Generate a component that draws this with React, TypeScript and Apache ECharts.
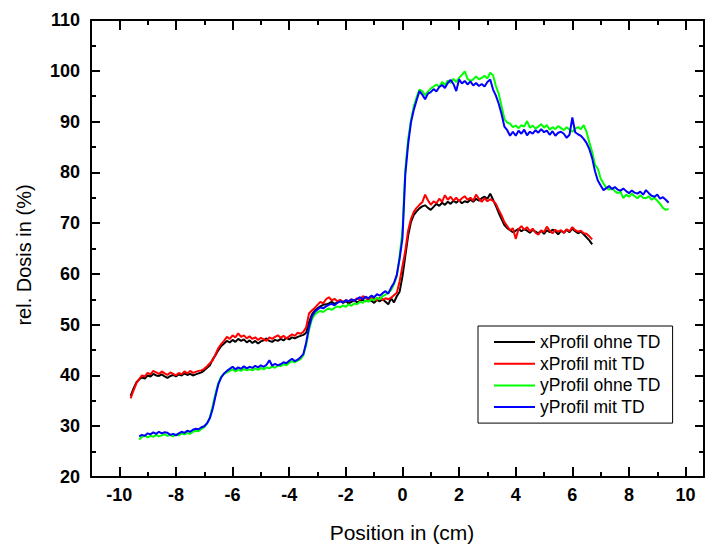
import React, { useEffect, useRef } from "react";
import * as echarts from "echarts";

// Sampling grid of the measured profiles (cm)
const X_PROFILE_START = -9.6;
const Y_PROFILE_START = -9.3;
const STEP = 0.1;

// xProfil ohne TD (%)
const xOhne = [
  36.0, 37.4, 38.6, 39.2, 39.6, 39.4, 40.0, 39.8, 40.3, 40.0,
  39.9, 40.2, 39.8, 39.5, 39.9, 40.1, 39.8, 40.2, 40.0, 40.4,
  40.1, 40.3, 40.0, 40.2, 40.4, 40.6, 41.0, 41.5, 42.0, 43.2,
  44.0, 45.0, 45.8, 46.3, 46.8, 46.5, 47.0, 46.6, 47.2, 46.8,
  47.1, 46.5, 46.9, 46.4, 46.8, 46.3, 46.7, 46.9, 47.3, 46.8,
  46.6, 47.0, 46.8, 47.2, 46.9, 47.4, 47.1, 47.5, 47.3, 47.6,
  47.8, 48.0, 48.4, 50.5, 52.0, 52.8, 53.2, 53.6, 53.9, 54.0,
  54.2, 54.5, 54.1, 54.4, 54.7, 54.3, 54.6, 54.2, 54.5, 54.8,
  54.4, 54.7, 54.9, 54.6, 55.0, 54.7, 54.3, 54.9, 54.6, 55.0,
  54.5, 54.0, 55.2, 54.4, 55.6, 56.5, 59.5, 63.5, 67.5, 70.2,
  71.6, 72.3, 72.9, 73.3, 73.5, 73.0, 72.6, 73.2, 73.8, 73.4,
  74.0, 73.6, 74.2, 73.8, 74.4, 74.0, 74.5, 73.9, 74.3, 74.1,
  74.6, 74.2, 74.8, 74.4, 74.9, 75.2, 74.8, 75.8, 74.6, 73.4,
  72.0, 70.8, 69.6, 69.0, 68.6, 68.2, 68.5, 68.9, 68.4, 68.8,
  68.5, 68.1, 68.7, 68.3, 68.0, 68.5, 67.9, 68.6, 68.2, 68.7,
  68.4, 67.8, 68.5, 68.1, 68.7, 68.2, 68.9, 68.4, 68.0, 68.3,
  67.8, 67.2, 66.6, 65.8,
];

// xProfil mit TD (%)
const xMit = [
  35.5, 37.0, 38.4, 39.3, 40.0, 39.8, 40.5, 40.2, 40.9, 40.6,
  40.3, 40.8, 40.4, 40.1, 40.6, 40.3, 40.0, 40.5, 40.2, 40.8,
  40.4, 40.9, 40.5, 40.7, 40.9, 41.0, 41.3, 41.8, 42.4, 43.0,
  44.2, 45.4, 46.2, 46.8, 47.6, 47.2, 47.9, 47.5, 48.3, 47.6,
  47.9, 47.3, 47.7, 47.2, 47.5, 47.0, 47.4, 47.1, 46.8, 47.5,
  47.2, 47.6, 47.9, 47.4, 47.8, 47.3, 47.7, 48.1, 47.8, 48.4,
  48.2, 48.6, 49.5, 52.2, 52.8, 53.3, 53.9, 54.5, 54.2, 55.0,
  55.4, 54.8, 55.1, 54.6, 54.9, 54.5, 54.8, 54.6, 55.0, 54.7,
  55.2, 54.9, 55.6, 55.3, 55.0, 55.4, 55.1, 54.8, 55.3, 54.9,
  55.2, 55.0, 55.3, 55.8, 56.3, 58.5, 61.5, 64.5, 68.5, 70.8,
  72.2, 73.0, 73.6, 74.1, 75.6, 74.5, 73.6, 74.3, 73.9, 74.8,
  74.2, 75.5, 74.6, 75.2, 74.4, 75.0, 74.3, 74.9, 75.3, 74.6,
  75.0, 74.4, 75.6, 74.8, 74.2, 74.9, 74.3, 74.7, 74.4, 73.8,
  72.6, 71.5, 70.2, 69.4, 68.6, 69.0, 66.9, 68.8, 69.4, 68.7,
  69.2, 68.4, 68.9, 68.1, 67.7, 68.6, 68.2, 69.3, 68.5, 68.0,
  68.7, 68.3, 68.6, 68.1, 68.8, 68.4, 69.2, 68.6, 68.3, 68.5,
  68.0, 67.9, 67.4, 66.8,
];

// yProfil ohne TD (%)
const yOhne = [
  27.4, 27.9, 28.2, 27.8, 28.1, 27.9, 28.3, 28.0, 28.2, 28.4,
  28.1, 28.3, 28.0, 28.4, 28.2, 28.6, 28.4, 28.7, 28.5, 28.9,
  29.1, 29.0, 29.5, 29.8, 30.5, 31.8, 34.0, 36.5, 38.6, 39.8,
  40.3, 40.6, 40.9, 41.2, 40.8, 41.1, 40.9, 41.3, 41.0, 41.2,
  41.0, 41.4, 41.1, 41.5, 41.2, 41.6, 41.4, 41.8, 41.5, 42.0,
  41.8, 42.2, 42.0, 42.5, 42.8, 42.6, 42.9, 43.2, 44.0, 46.0,
  49.0, 51.0, 52.0, 52.4, 52.7, 52.5, 52.9, 53.2, 52.9, 53.3,
  53.6, 53.4, 53.8, 53.5, 54.0, 53.7, 54.2, 54.0, 54.5, 54.3,
  54.8, 54.5, 55.0, 54.8, 55.3, 55.0, 55.6, 55.9, 56.4, 56.8,
  58.0, 59.5, 63.5, 68.5, 80.5, 86.5, 90.2, 93.0, 94.8, 96.3,
  96.0, 95.2, 95.9, 96.5, 96.9, 97.3, 96.8, 97.8, 97.2, 98.1,
  97.6, 98.4, 97.8, 98.6, 99.2, 99.9, 98.4, 98.0, 98.3, 98.9,
  98.3, 98.6, 99.0, 98.5, 99.6, 99.1, 97.0, 95.5, 93.0, 90.5,
  89.8, 89.6, 88.9, 89.2, 88.7, 89.3, 89.0, 90.1, 88.8, 89.2,
  88.6, 89.0, 89.5, 88.8, 89.3, 88.4, 88.9, 88.5, 89.1, 88.7,
  88.3, 88.9, 88.4, 88.0, 88.6, 88.9, 88.5, 89.3, 88.0, 85.9,
  84.0, 81.5, 80.7, 78.8, 77.8, 77.0, 76.6, 76.9, 76.3, 75.9,
  76.2, 74.9, 75.6, 75.2, 75.8, 75.3, 74.9, 75.5, 75.0, 74.9,
  75.3, 74.6, 75.0, 74.4, 73.8, 73.0, 72.6, 72.8,
];

// yProfil mit TD (%)
const yMit = [
  28.0, 28.3, 28.1, 28.6, 28.4, 28.8, 28.5, 28.9, 28.6, 28.8,
  28.7, 28.3, 28.5, 28.2, 28.6, 28.9, 28.7, 29.1, 28.9, 29.3,
  29.5, 29.4, 29.8, 30.0, 30.6, 31.6, 33.5, 36.0, 38.3, 39.6,
  40.4, 40.9, 41.3, 41.7, 41.2, 41.6, 41.3, 41.8, 41.4, 41.7,
  41.5, 41.9, 41.6, 42.0, 41.7, 42.1, 43.0, 41.9, 42.3, 42.0,
  42.2, 42.6, 42.4, 42.9, 43.3, 42.8, 43.1, 43.6, 44.2, 46.5,
  49.5, 51.6, 52.5, 53.0, 53.4, 53.2, 53.6, 53.9, 54.1, 53.8,
  54.3, 54.6, 54.4, 54.8, 54.6, 55.0, 54.7, 55.1, 55.4, 55.0,
  55.5, 55.2, 55.7, 55.4, 56.0, 55.7, 56.2, 56.6, 56.1, 57.3,
  58.2, 59.8, 63.0, 67.0, 79.5, 85.5, 89.8, 92.3, 94.2, 96.0,
  95.3, 94.4, 95.5, 95.8, 96.4, 95.9, 96.8, 97.2, 96.6, 97.6,
  98.2, 97.4, 96.0, 98.3, 97.5, 98.0, 97.3, 97.9, 97.1, 97.6,
  97.0, 97.4, 96.9, 97.8, 98.3, 96.3, 95.1, 93.5, 91.5, 89.0,
  88.3, 87.2, 88.0, 87.2, 88.2, 87.6, 88.4, 87.3, 88.0, 87.6,
  88.3, 87.8, 88.5, 87.9, 88.2, 87.4, 88.1, 87.2, 87.8, 88.0,
  87.6, 86.8, 87.4, 90.8, 87.9, 87.5, 87.2, 86.6, 85.8, 84.6,
  82.8, 80.2, 78.4, 77.4, 76.5, 76.9, 77.3, 76.7, 77.1, 76.6,
  76.4, 76.8, 76.3, 75.9, 76.4, 76.0, 75.8, 76.2, 75.6, 76.5,
  75.9, 75.4, 75.2, 75.6, 74.8, 75.1, 74.6, 74.0,
];

// Axis ticks
const xMajorTicks = [-10, -8, -6, -4, -2, 0, 2, 4, 6, 8, 10];
const xMinorTicks = [-9, -7, -5, -3, -1, 1, 3, 5, 7, 9];

const FONT = "'Liberation Sans', Arial, Helvetica, sans-serif";

const toPairs = (values: number[], start: number) =>
  values.map((v, i) => [Number((start + i * STEP).toFixed(2)), v]);

export default function App() {
  const ref = useRef<HTMLDivElement>(null);

  useEffect(() => {
    if (!ref.current) return;
    const chart = echarts.init(ref.current, undefined, { renderer: "svg" });

    const axisLine = { show: true, onZero: false, lineStyle: { color: "#000", width: 2 } };
    const noLine = { show: false, onZero: false };
    const X_MIN = -11;
    const X_MAX = 10.65;

    const xBase = {
      type: "value" as const,
      min: X_MIN,
      max: X_MAX,
      splitLine: { show: false },
    };

    chart.setOption({
      animation: false,
      textStyle: { fontFamily: FONT },
      grid: { left: 91, right: 1, top: 20, bottom: 67, containLabel: false },
      legend: {
        orient: "vertical",
        left: 478,
        top: 326,
        padding: [7, 12, 7, 16],
        itemGap: 3.7,
        itemWidth: 41,
        itemHeight: 2,
        icon: "rect",
        borderColor: "#000",
        borderWidth: 1,
        backgroundColor: "#fff",
        textStyle: { fontSize: 17.5, lineHeight: 18, color: "#000", fontFamily: FONT },
        data: ["xProfil ohne TD", "xProfil mit TD", "yProfil ohne TD", "yProfil mit TD"],
      },
      xAxis: [
        {
          ...xBase,
          position: "bottom",
          axisLine,
          axisTick: {
            show: true,
            inside: true,
            length: 10,
            customValues: xMajorTicks,
            lineStyle: { color: "#000", width: 2 },
          },
          axisLabel: {
            customValues: xMajorTicks,
            fontSize: 18,
            fontWeight: "bold",
            color: "#000",
            margin: 9,
            fontFamily: FONT,
          },
          name: "Position in (cm)",
          nameLocation: "middle",
          nameGap: 45,
          nameTextStyle: { fontSize: 21, color: "#000", fontFamily: FONT, padding: [0, 0, 0, 9] },
        },
        {
          ...xBase,
          position: "bottom",
          axisLine: noLine,
          axisLabel: { show: false },
          axisTick: {
            show: true,
            inside: true,
            length: 5,
            customValues: xMinorTicks,
            lineStyle: { color: "#000", width: 2 },
          },
        },
        {
          ...xBase,
          position: "top",
          axisLine,
          axisLabel: { show: false },
          axisTick: {
            show: true,
            inside: true,
            length: 10,
            customValues: xMajorTicks,
            lineStyle: { color: "#000", width: 2 },
          },
        },
        {
          ...xBase,
          position: "top",
          axisLine: noLine,
          axisLabel: { show: false },
          axisTick: {
            show: true,
            inside: true,
            length: 5,
            customValues: xMinorTicks,
            lineStyle: { color: "#000", width: 2 },
          },
        },
      ],
      yAxis: [
        {
          type: "value",
          position: "left",
          min: 20,
          max: 110,
          interval: 10,
          splitLine: { show: false },
          axisLine,
          axisTick: { show: true, inside: true, length: 9, lineStyle: { color: "#000", width: 2 } },
          minorTick: { show: true, splitNumber: 2, length: 5, lineStyle: { color: "#000", width: 2 } },
          axisLabel: { fontSize: 18, fontWeight: "bold", color: "#000", margin: 11, fontFamily: FONT },
          name: "rel. Dosis in (%)",
          nameLocation: "middle",
          nameGap: 57,
          nameTextStyle: { fontSize: 20, color: "#000", fontFamily: FONT, padding: [0, 13, 0, 0] },
        },
        {
          type: "value",
          position: "right",
          min: 20,
          max: 110,
          interval: 10,
          splitLine: { show: false },
          axisLine,
          axisLabel: { show: false },
          axisTick: { show: true, inside: true, length: 9, lineStyle: { color: "#000", width: 2 } },
          minorTick: { show: true, splitNumber: 2, length: 5, lineStyle: { color: "#000", width: 2 } },
        },
      ],
      series: [
        { name: "xProfil ohne TD", color: "#000000", data: toPairs(xOhne, X_PROFILE_START) },
        { name: "xProfil mit TD", color: "#ff0000", data: toPairs(xMit, X_PROFILE_START) },
        { name: "yProfil ohne TD", color: "#00ff00", data: toPairs(yOhne, Y_PROFILE_START) },
        { name: "yProfil mit TD", color: "#0000ff", data: toPairs(yMit, Y_PROFILE_START) },
      ].map((s) => ({
        type: "line",
        name: s.name,
        data: s.data,
        xAxisIndex: 0,
        yAxisIndex: 0,
        showSymbol: false,
        symbol: "none",
        itemStyle: { color: s.color },
        lineStyle: { color: s.color, width: 2 },
      })),
    });

    return () => chart.dispose();
  }, []);

  return (
    <div
      ref={ref}
      style={{ position: "absolute", left: 0, top: 0, width: 705, height: 548 }}
    />
  );
}
